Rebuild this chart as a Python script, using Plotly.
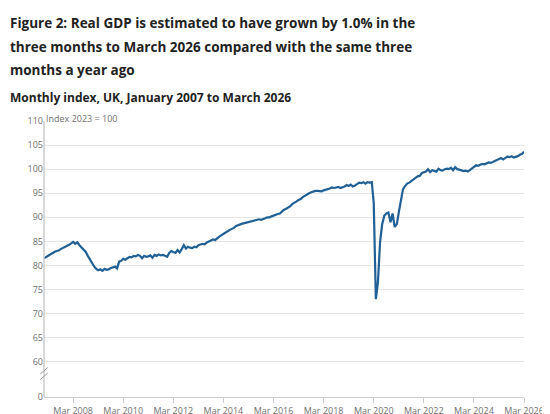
import plotly.graph_objects as go
import pandas as pd

# monthly index values, Jan 2007 to Mar 2026
gdp_2007 = [81.5, 81.8, 82.0, 82.3, 82.5, 82.8, 83.0, 83.1, 83.4, 83.6, 83.8, 84.0]
gdp_2008 = [84.3, 84.6, 84.9, 84.5, 84.8, 84.2, 83.8, 83.3, 82.8, 82.0, 81.2, 80.4]
gdp_2009 = [79.8, 79.3, 79.0, 79.2, 78.9, 79.3, 79.1, 79.2, 79.5, 79.6, 79.8, 79.4]
gdp_2010 = [80.8, 81.0, 81.4, 81.2, 81.6, 81.8, 81.7, 82.0, 81.9, 82.2, 82.0, 81.5]
gdp_2011 = [82.0, 81.8, 81.9, 82.1, 81.6, 82.2, 82.0, 82.3, 82.1, 82.2, 82.0, 81.8]
gdp_2012 = [82.6, 83.0, 82.8, 82.6, 83.2, 82.7, 83.4, 84.2, 83.5, 83.9, 83.7, 83.6]
gdp_2013 = [83.9, 83.8, 84.2, 84.3, 84.5, 84.4, 84.8, 85.0, 85.2, 85.4, 85.3, 85.7]
gdp_2014 = [86.0, 86.3, 86.5, 86.8, 87.1, 87.4, 87.6, 87.8, 88.2, 88.4, 88.5, 88.7]
gdp_2015 = [88.8, 88.9, 89.0, 89.1, 89.2, 89.3, 89.4, 89.6, 89.5, 89.6, 89.8, 90.0]
gdp_2016 = [90.0, 90.2, 90.4, 90.5, 90.7, 90.8, 91.2, 91.6, 91.8, 92.0, 92.3, 92.8]
gdp_2017 = [93.0, 93.3, 93.6, 93.8, 94.2, 94.5, 94.8, 95.0, 95.2, 95.4, 95.5, 95.5]
gdp_2018 = [95.5, 95.4, 95.6, 95.7, 95.8, 96.0, 96.2, 96.1, 96.2, 96.3, 96.1, 96.2]
gdp_2019 = [96.4, 96.7, 96.5, 96.8, 96.4, 96.6, 97.0, 97.2, 97.1, 97.3, 97.0, 97.3]
gdp_2020 = [97.2, 97.3, 93.0, 73.0, 76.5, 84.8, 88.5, 90.3, 90.8, 91.0, 89.0, 90.8]
gdp_2021 = [88.0, 88.6, 91.0, 93.8, 95.8, 96.5, 97.0, 97.2, 97.6, 97.8, 98.2, 98.5]
gdp_2022 = [98.6, 99.2, 99.3, 99.5, 100.0, 99.4, 99.8, 99.6, 99.5, 100.1, 99.8, 99.7]
gdp_2023 = [100.0, 100.1, 100.0, 100.3, 99.8, 100.4, 100.0, 99.9, 99.8, 99.6, 99.7, 99.5]
gdp_2024 = [99.8, 100.2, 100.4, 100.8, 100.7, 100.9, 101.1, 101.0, 101.2, 101.4, 101.3, 101.5]
gdp_2025 = [101.6, 101.9, 102.1, 102.3, 102.0, 102.3, 102.6, 102.5, 102.7, 102.4, 102.5, 102.7]
gdp_2026 = [103.0, 103.2, 103.6]

values = (gdp_2007 + gdp_2008 + gdp_2009 + gdp_2010 + gdp_2011 + gdp_2012 + gdp_2013
          + gdp_2014 + gdp_2015 + gdp_2016 + gdp_2017 + gdp_2018 + gdp_2019 + gdp_2020
          + gdp_2021 + gdp_2022 + gdp_2023 + gdp_2024 + gdp_2025 + gdp_2026)
dates = pd.date_range("2007-01-01", periods=len(values), freq="MS")

x_ticks = pd.date_range("2008-03-01", "2026-03-01", freq="24MS")
x_labels = [d.strftime("Mar %Y") for d in x_ticks]
y_ticks = [52.7, 60, 65, 70, 75, 80, 85, 90, 95, 100, 105, 110]
y_labels = ["0"] + [str(v) for v in y_ticks[1:]]

title_lines = ["Figure 2: Real GDP is estimated to have grown by 1.0% in the",
               "three months to March 2026 compared with the same three",
               "months a year ago"]

fig = go.Figure()
fig.add_trace(go.Scatter(x=dates, y=values, mode="lines",
                         line=dict(color="#206095", width=2.2), hoverinfo="skip"))

fig.update_layout(
    width=550, height=414,
    margin=dict(l=36, r=34, t=113, b=25, autoexpand=False),
    plot_bgcolor="white", paper_bgcolor="white",
    showlegend=False,
    font=dict(family="Open Sans", color="#707070", size=9),
    xaxis=dict(range=[dates[0], dates[-1]], tickvals=x_ticks, ticktext=x_labels,
               ticks="outside", ticklen=5, tickcolor="#cccccc", showgrid=False,
               showline=True, linecolor="#cccccc", automargin=False,
               tickfont=dict(size=9, color="#707070")),
    yaxis=dict(range=[52.7, 110], tickvals=y_ticks, ticktext=y_labels,
               gridcolor="#e6e6e6", zeroline=False, showline=False, automargin=False,
               tickfont=dict(size=9, color="#707070")),
)

# title and subtitle
for i, line in enumerate(title_lines):
    fig.add_annotation(xref="paper", yref="paper", x=0, y=1, xshift=-36,
                       yshift=113 - 4 - 23.5 * i, xanchor="left", yanchor="top",
                       showarrow=False, text="<b>" + line + "</b>",
                       font=dict(size=13.5, color="#222222", family="Open Sans"))
fig.add_annotation(xref="paper", yref="paper", x=0, y=1, xshift=-36, yshift=34,
                   xanchor="left", yanchor="top", showarrow=False,
                   text="<b>Monthly index, UK, January 2007 to March 2026</b>",
                   font=dict(size=12, color="#222222", family="Open Sans"))
fig.add_annotation(xref="paper", yref="paper", x=0, y=1, yshift=3, xanchor="left",
                   yanchor="middle", showarrow=False, text="Index 2023 = 100",
                   font=dict(size=9, color="#707070"))

# axis line and break marks
fig.add_shape(type="line", xref="paper", yref="paper", x0=0, x1=0, y0=0, y1=1,
              line=dict(color="#cccccc", width=1.5))
for yy in [0.075, 0.095]:
    fig.add_shape(type="line", xref="paper", yref="paper", x0=-0.008, x1=0.008,
                  y0=yy - 0.012, y1=yy + 0.012, line=dict(color="#999999", width=1))

fig.write_html("out.html")
